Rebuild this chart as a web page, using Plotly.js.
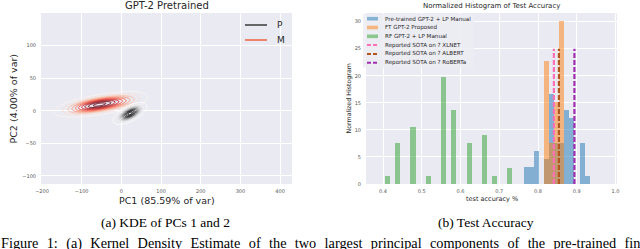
<!DOCTYPE html>
<html>
<head>
<meta charset="utf-8">
<script src="https://cdn.plot.ly/plotly-3.0.1.min.js"></script>
<style>html,body{margin:0;padding:0;background:#fff;overflow:hidden}#chart{width:640px;height:249px}</style>
</head>
<body>
<div id="chart"></div>
<script>
// ---------- DATA ----------
// Left panel: KDE components [centerX, centerY, sigmaAlong, sigmaAcross, slope, weight]
const kdeM = [[-57, 9.5, 47, 6.3, 0.1, 1.0], [10, 14, 30, 7, 0.12, 0.12]];
const kdeP = [[22, -4, 18, 5.2, 0.27, 1.0]];
const kdeLevels = {start: 0.05, end: 0.95, size: 0.1};
const leftXTicks = [-200, -100, 0, 100, 200, 300, 400];
const leftYTicks = [-100, -50, 0, 50, 100];

// Right panel: normalized histograms (bin centers and heights)
const binWidth = 0.01316;
const preX = [0.7692, 0.7824, 0.7955, 0.8219, 0.8350, 0.8482, 0.8613, 0.8745, 0.8876, 0.9140, 0.9271];
const preY = [3.1, 3.1, 6.1, 4.6, 16.6, 7.6, 7.6, 13.7, 12.2, 7.6, 1.5];
const ftX = [0.8219, 0.8350, 0.8482, 0.8613];
const ftY = [22.7, 7.6, 15.1, 30.2];
const rfX = [0.4116, 0.4379, 0.4774, 0.5169, 0.5563, 0.5827, 0.6221, 0.6616, 0.6879, 0.7274];
const rfY = [1.5, 7.6, 10.6, 1.5, 19.7, 13.7, 7.6, 9.1, 1.5, 3.0];
const sotaNames = ['Reported SOTA on ? XLNET', 'Reported SOTA on ? ALBERT', 'Reported SOTA on ? RoBERTa'];
const sotaX = [0.841, 0.854, 0.894];
const sotaTop = 25;
const rightXTicks = [0.4, 0.5, 0.6, 0.7, 0.8, 0.9, 1.0];
const rightYTicks = [0, 5, 10, 15, 20, 25, 30];

// ---------- helpers ----------
const W = 640, H = 249;
const px = x => x / W, py = y => 1 - y / H;

const gx = [], gy = [];
for (let x = -220; x <= 140; x += 1.5) gx.push(x);
for (let y = -45; y <= 50; y += 0.5) gy.push(y);

function density(comps) {
  let mx = 0;
  const z = gy.map(y => gx.map(x => {
    let s = 0;
    comps.forEach(c => {
      const th = Math.atan(c[4]);
      const dx = x - c[0], dy = y - c[1];
      const u = dx * Math.cos(th) + dy * Math.sin(th);
      const v = -dx * Math.sin(th) + dy * Math.cos(th);
      s += c[5] * Math.exp(-0.5 * (u * u / (c[2] * c[2]) + v * v / (c[3] * c[3])));
    });
    if (s > mx) mx = s;
    return s;
  }));
  return z.map(r => r.map(v => v / mx));
}

const reds = [[0, '#fff5f0'], [0.125, '#fee0d2'], [0.25, '#fcbba1'], [0.375, '#fc9272'], [0.5, '#fb6a4a'], [0.625, '#ef3b2c'], [0.75, '#cb181d'], [0.875, '#a50f15'], [1, '#67000d']];
const greys = [[0, '#ffffff'], [0.125, '#f0f0f0'], [0.25, '#d9d9d9'], [0.375, '#bdbdbd'], [0.5, '#969696'], [0.625, '#737373'], [0.75, '#525252'], [0.875, '#252525'], [1, '#000000']];

function kdeTrace(comps, cs, name) {
  return {
    type: 'contour', x: gx, y: gy, z: density(comps), name: name,
    xaxis: 'x', yaxis: 'y',
    colorscale: cs, zauto: false, zmin: kdeLevels.start, zmax: kdeLevels.end,
    autocontour: false, contours: {coloring: 'lines', start: kdeLevels.start, end: kdeLevels.end, size: kdeLevels.size},
    line: {width: 1, smoothing: 1}, showscale: false, hoverinfo: 'skip'
  };
}

const barColors = ['#1f77b4', '#ff7f0e', '#2ca02c'];
const sotaColors = ['#ff6fb8', '#b0561e', '#a02fb0'];
const barNames = ['Pre-trained GPT-2 + LP Manual', 'FT GPT-2 Proposed', 'RF GPT-2 + LP Manual'];

function barTrace(x, y, i) {
  return {type: 'bar', x: x, y: y, width: binWidth, name: barNames[i], xaxis: 'x2', yaxis: 'y2',
    marker: {color: barColors[i], line: {width: 0}}, opacity: 0.5, hoverinfo: 'skip'};
}

const traces = [
  kdeTrace(kdeM, reds, 'M'),
  kdeTrace(kdeP, greys, 'P'),
  barTrace(preX, preY, 0),
  barTrace(ftX, ftY, 1),
  barTrace(rfX, rfY, 2)
];
sotaX.forEach((v, i) => traces.push({
  type: 'scatter', mode: 'lines', x: [v, v], y: [0, sotaTop], name: sotaNames[i],
  xaxis: 'x2', yaxis: 'y2', line: {color: sotaColors[i], width: 2.2, dash: '5px,2px'}, hoverinfo: 'skip'
}));

const font = 'DejaVu Sans';
const txt = '#262626';
const tickFont = {family: font, size: 5, color: '#555'};
const ydom = [py(184), py(13)];

function axis(extra) {
  return Object.assign({showgrid: true, gridcolor: '#ffffff', gridwidth: 1, zeroline: false, showline: false,
    ticks: 'outside', ticklen: 3, tickcolor: 'rgba(0,0,0,0)', tickfont: tickFont, tickmode: 'array',
    fixedrange: true}, extra);
}

const ann = [];
function addText(text, x, y, size, opts) {
  ann.push(Object.assign({text: text, x: px(x), y: py(y), xref: 'paper', yref: 'paper', showarrow: false,
    font: {family: font, size: size, color: txt}, xanchor: 'center', yanchor: 'middle'}, opts || {}));
}
addText('GPT-2 Pretrained', 166.5, 5.5, 10);
addText('PC1 (85.59% of var)', 166.5, 200.5, 9.5);
addText('PC2 (4.00% of var)', 13, 98.5, 9.5, {textangle: -90});
addText('Normalized Histogram of Test Accuracy', 491.5, 6.5, 7);
addText('test accuracy %', 491.5, 199, 6.5);
addText('Normalized Histogram', 348, 98.5, 6.3, {textangle: -90});
const serif = 'Liberation Serif';
addText('(a) KDE of PCs 1 and 2', 165, 222, 13.5, {font: {family: serif, size: 13.5, color: '#000'}});
addText('(b) Test Accuracy', 486, 222, 13.5, {font: {family: serif, size: 13.5, color: '#000'}});
const figLine = 'Figure 1: (a) Kernel Density Estimate of the two largest principal components of the pre-trained fine-tuned';
addText(figLine.split(' ').join(' \u00A0\u200A'), -1, 243.5, 14.3,
  {xanchor: 'left', font: {family: serif, size: 14.3, color: '#000'}});

const shapes = [];
// left legend
[['P', '#3a3a3a', 25], ['M', '#f0603f', 40]].forEach(e => {
  shapes.push({type: 'line', xref: 'paper', yref: 'paper', x0: px(245), x1: px(267), y0: py(e[2]), y1: py(e[2]),
    line: {color: e[1], width: 1.5}});
  addText(e[0], 275, e[2], 9, {xanchor: 'left'});
});
// right legend
shapes.push({type: 'rect', xref: 'paper', yref: 'paper', x0: px(363), x1: px(474), y0: py(14), y1: py(67.5),
  fillcolor: 'rgba(236,236,243,0.85)', line: {width: 0}, layer: 'above'});
const legNames = barNames.concat(sotaNames);
legNames.forEach((n, i) => {
  const y = 18.7 + i * 8.8;
  if (i < 3) {
    shapes.push({type: 'rect', xref: 'paper', yref: 'paper', x0: px(367), x1: px(378), y0: py(y - 1.8), y1: py(y + 1.8),
      fillcolor: barColors[i], opacity: 0.5, line: {width: 0}, layer: 'above'});
  } else {
    shapes.push({type: 'line', xref: 'paper', yref: 'paper', x0: px(367), x1: px(378), y0: py(y), y1: py(y),
      line: {color: sotaColors[i - 3], width: 2, dash: '4px,2px'}, layer: 'above'});
  }
  addText(n, 382.5, y, 5.6, {xanchor: 'left'});
});

const layout = {
  width: W, height: H, margin: {l: 0, r: 0, t: 0, b: 0}, paper_bgcolor: '#ffffff', plot_bgcolor: '#EAEAF2',
  showlegend: false, hovermode: false, barmode: 'overlay', bargap: 0,
  xaxis: axis({domain: [px(41), px(292)], range: [-202.5, 430], anchor: 'y', tickvals: leftXTicks, ticklen: 2}),
  yaxis: axis({domain: ydom, range: [-112.3, 150.2], anchor: 'x', tickvals: leftYTicks}),
  xaxis2: axis({domain: [px(366), px(617)], range: [0.3561, 1.0039], anchor: 'y2', tickvals: rightXTicks,
    ticktext: rightXTicks.map(v => v.toFixed(1)), ticklen: 2}),
  yaxis2: axis({domain: ydom, range: [0, 31.6], anchor: 'x2', tickvals: rightYTicks}),
  annotations: ann, shapes: shapes
};

Plotly.newPlot('chart', traces, layout, {displayModeBar: false, staticPlot: true});
</script>
</body>
</html>
